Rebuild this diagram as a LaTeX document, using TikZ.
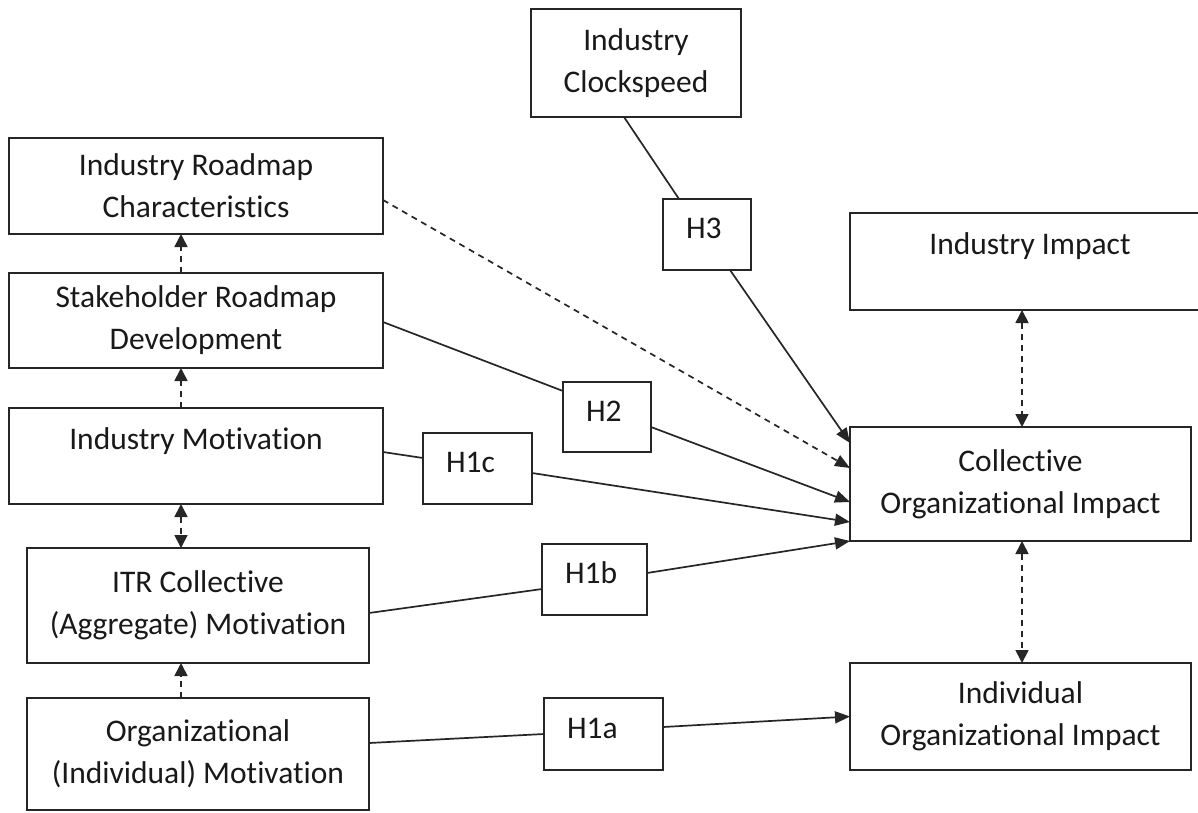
\documentclass[tikz,border=0pt]{standalone}
\usepackage{fontspec}
\setmainfont{Carlito}[Ligatures={NoCommon}]
\usetikzlibrary{arrows.meta}
\begin{document}
\begin{tikzpicture}[x=1pt,y=-1pt,
  box/.style={draw=black!85, line width=2pt, inner sep=0pt, outer sep=0pt,
    align=center, text=black!90, font=\fontsize{31.5}{42}\selectfont},
  onebox/.style={box, text height=10pt, text depth=24pt},
  hyp/.style={draw=black!85, line width=2pt, inner xsep=23pt, inner ysep=0pt, outer sep=0pt,
    align=left, text=black!90, font=\fontsize{31.5}{42}\selectfont,
    text height=18pt, text depth=10pt},
  conn/.style={line width=1.7pt, draw=black!85},
  arr/.style={conn, -{Triangle[length=15pt,width=12pt]}},
  dsh/.style={dash pattern=on 6pt off 5pt},
  uarr/.style={conn, dsh, -{Triangle[length=13pt,width=13pt]}},
  darr/.style={conn, dsh, {Triangle[length=13pt,width=13pt]}-{Triangle[length=13pt,width=13pt]}}
]
\path[use as bounding box, fill=white] (0,0) rectangle (1198,812);

% main boxes
\node[box, minimum width=210pt, minimum height=108pt] (clock) at (636,63) {Industry\\Clockspeed};
\node[box, minimum width=374pt, minimum height=96pt] (irc) at (196,186) {Industry Roadmap\\Characteristics};
\node[box, minimum width=374pt, minimum height=95pt] (srd) at (196,320.5) {Stakeholder Roadmap\\Development};
\node[onebox, minimum width=374pt, minimum height=96pt] (im) at (196,456) {Industry Motivation};
\node[box, minimum width=342pt, minimum height=115pt] (itr) at (198,605.5) {ITR Collective\\(Aggregate) Motivation};
\node[box, minimum width=342pt, minimum height=112pt] (org) at (198,754) {Organizational\\(Individual) Motivation};
\node[onebox, minimum width=360pt, minimum height=97pt] (ii) at (1030,261.5) {Industry Impact};
\node[box, minimum width=341pt, minimum height=114pt] (col) at (1020.5,484) {Collective\\Organizational Impact};
\node[box, minimum width=341pt, minimum height=107pt] (ind) at (1020.5,716.5) {Individual\\Organizational Impact};

% hypothesis boxes
\node[hyp, text width=42pt, minimum height=71pt] (h3) at (707,234.5) {H3};
\node[hyp, text width=42pt, minimum height=70pt] (h2) at (607,417) {H2};
\node[hyp, text width=63pt, minimum height=71pt] (h1c) at (477.5,468.5) {H1c};
\node[hyp, text width=59pt, minimum height=71pt] (h1b) at (594.5,579.5) {H1b};
\node[hyp, text width=73pt, minimum height=72pt] (h1a) at (603.5,734) {H1a};

% left column vertical arrows
\draw[uarr] ([xshift=-15pt]srd.north) -- ([xshift=-15pt]irc.south);
\draw[uarr] ([xshift=-15pt]im.north) -- ([xshift=-15pt]srd.south);
\draw[darr] ([xshift=-15pt]im.south) -- ([xshift=-17pt]itr.north);
\draw[uarr] ([xshift=-17pt]org.north) -- ([xshift=-17pt]itr.south);

% right column vertical arrows
\draw[darr] ([xshift=-8pt]ii.south) -- ([xshift=1.5pt]col.north);
\draw[darr] ([xshift=1.5pt]col.south) -- ([xshift=1.5pt]ind.north);

% H3
\draw[conn] ([xshift=-12pt]clock.south) -- ([xshift=-28pt]h3.north);
\draw[arr] ([xshift=23pt]h3.south) -- ([yshift=-16pt]col.north west);
% dashed from roadmap characteristics
\draw[arr, dsh] ([yshift=-14pt]irc.east) -- ([yshift=-41pt]col.north west);
% H2
\draw[conn] ([yshift=-1.5pt]srd.east) -- ([yshift=26pt]h2.west);
\draw[arr] ([yshift=-10pt]h2.east) -- ([yshift=-75pt]col.north west);
% H1c
\draw[conn] ([yshift=4pt]im.east) -- ([yshift=10.5pt]h1c.west);
\draw[arr] ([yshift=-4.5pt]h1c.east) -- ([yshift=-95pt]col.north west);
% H1b
\draw[conn] ([yshift=-7.5pt]itr.east) -- ([yshift=-9.5pt]h1b.west);
\draw[arr] ([yshift=6.5pt]h1b.east) -- (col.south west);
% H1a
\draw[conn] ([yshift=11pt]org.east) -- (h1a.west);
\draw[arr] ([yshift=7pt]h1a.east) -- (ind.west);
\end{tikzpicture}
\end{document}
